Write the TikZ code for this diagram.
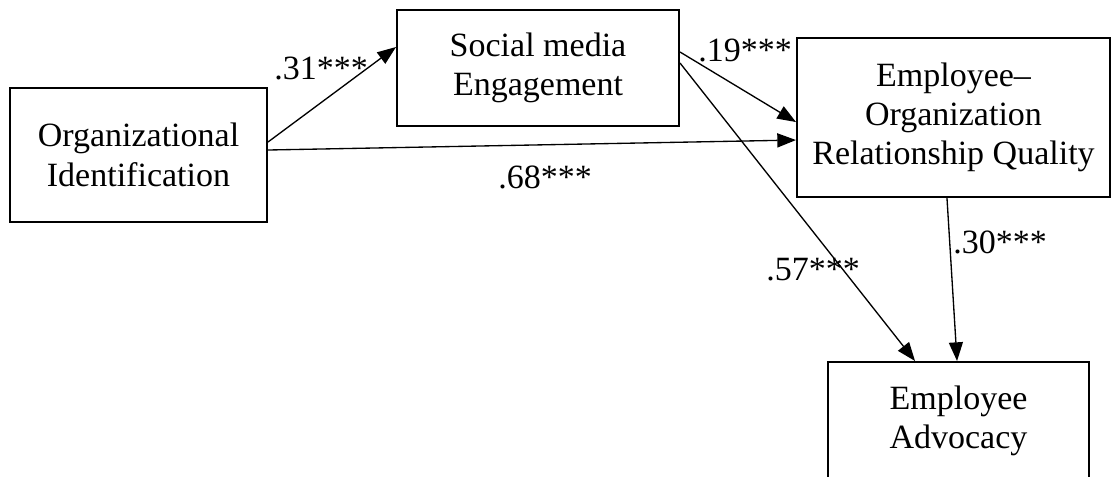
\documentclass[tikz,border=0pt]{standalone}
\usepackage{fontspec}
\setmainfont{Liberation Serif}
\usetikzlibrary{arrows.meta}

\tikzset{every picture/.style={line width=0.75pt}}
\tikzset{
  varbox/.style={draw, line width=1.5pt, align=center, inner sep=0pt,
    font=\fontsize{25.5}{29.5}\selectfont},
  pathline/.style={line width=1pt, -{Triangle[length=14pt,width=10.5pt]}},
  coef/.style={inner sep=0.75pt, font=\fontsize{25.5}{29.5}\selectfont}
}

\begin{document}
\begin{tikzpicture}[x=0.75pt,y=0.75pt,yscale=-1,xscale=1]
\useasboundingbox (0,0) rectangle (1112,476);

%Shape: Rectangle [id:orgident]
\node (orgident) [varbox, minimum width=192.75pt, minimum height=100.5pt] at (138.5,155) {Organizational\\Identification};
%Shape: Rectangle [id:smengage]
\node (smengage) [varbox, minimum width=211.5pt, minimum height=87pt] at (538,68) {Social media\\Engagement};
%Shape: Rectangle [id:eorqual]
\node (eorqual) [varbox, minimum width=234.75pt, minimum height=119.25pt] at (953.5,117.5) {Employee--\\Organization\\Relationship Quality};
%Shape: Rectangle [id:empadv]
\node (empadv) [varbox, minimum width=195.75pt, minimum height=88.5pt] at (958.5,421) {Employee\\Advocacy};

%Straight Lines [id:oi-sme]
\draw [pathline] ([yshift=-9.75pt]orgident.east) -- ([yshift=-15.75pt]smengage.west) ;
%Straight Lines [id:oi-eorq]
\draw [pathline] ([yshift=-3.75pt]orgident.east) -- ([yshift=16.9pt]eorqual.west) ;
%Straight Lines [id:sme-eorq]
\draw [pathline] ([yshift=-12pt]smengage.east) -- ([yshift=3.4pt]eorqual.west) ;
%Straight Lines [id:sme-ea]
\draw [pathline] ([yshift=-3.75pt]smengage.east) -- ([xshift=-32.6pt]empadv.north) ;
%Straight Lines [id:eorq-ea]
\draw [pathline] ([xshift=-4.9pt]eorqual.south) -- ([xshift=-1.1pt]empadv.north) ;

% Text Node
\node (coefa) [coef] at (321,68) {.31***};
% Text Node
\node (coefb) [coef] at (745,50) {.19***};
% Text Node
\node (coefc) [coef] at (545,177) {.68***};
% Text Node
\node (coefd) [coef] at (813,270) {.57***};
% Text Node
\node (coefe) [coef] at (1000,242) {.30***};

\end{tikzpicture}
\end{document}
